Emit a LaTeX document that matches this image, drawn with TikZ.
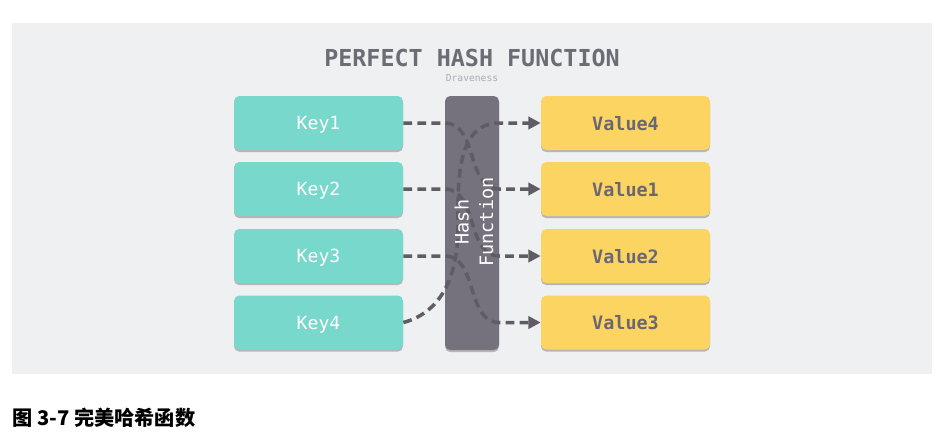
\documentclass[tikz,border=0pt]{standalone}
\usepackage{fontspec}
\setmonofont{DejaVu Sans Mono}
\newfontfamily\cjk{Noto Sans CJK SC}
\usetikzlibrary{arrows.meta,shadows}

\newlength{\du}
\setlength{\du}{0.02cm}

\definecolor{bgcolor}{HTML}{EFF0F2}
\definecolor{keycolor}{HTML}{78D8CC}
\definecolor{valuecolor}{HTML}{FCD462}
\definecolor{hashcolor}{HTML}{76727D}
\definecolor{arrowcolor}{HTML}{5F5C66}
\definecolor{titlecolor}{HTML}{6D6C74}
\definecolor{signcolor}{HTML}{A6ADB5}
\definecolor{valuetext}{HTML}{6B6772}

\tikzset{
  box/.style={rounded corners=3pt, inner sep=0pt, minimum width=169\du, minimum height=54\du,
    text depth=0pt,
    drop shadow={shadow xshift=0pt, shadow yshift=-1.2pt, opacity=0.35, fill=black!70}},
  keybox/.style={box, fill=keycolor, text=white, font=\ttfamily\fontsize{10.3}{12}\selectfont},
  valuebox/.style={box, fill=valuecolor, text=valuetext, font=\ttfamily\bfseries\fontsize{10.5}{12}\selectfont},
  flow/.style={draw=arrowcolor, line width=2pt, dash pattern=on 5pt off 3pt,
    -{Triangle[length=7pt,width=7pt]}},
}

\begin{document}
\begin{tikzpicture}
\pgftransformxscale{1.000000}
\pgftransformyscale{-1.000000}
\useasboundingbox (0\du,0\du) rectangle (945\du,437\du);
\fill[white] (0\du,0\du) rectangle (945\du,437\du);
\fill[bgcolor] (12\du,23\du) rectangle (932\du,374\du);
% title
\node[text=titlecolor, font=\ttfamily\bfseries\fontsize{13.3}{15}\selectfont] (title) at (472\du,58\du) {PERFECT HASH FUNCTION};
\node[text=signcolor, font=\ttfamily\fontsize{5.5}{6}\selectfont] (sign) at (472\du,78\du) {Draveness};
% keys
\node[keybox] (k1) at (318.5\du,123\du) {Key1};
\node[keybox] (k2) at (318.5\du,189\du) {Key2};
\node[keybox] (k3) at (318.5\du,256\du) {Key3};
\node[keybox] (k4) at (318.5\du,322.5\du) {Key4};
% hash function
\node[box, fill=hashcolor, minimum width=54\du, minimum height=254\du] (hf) at (472\du,223\du) {};
% values
\node[valuebox] (v4) at (625.5\du,123\du) {Value4};
\node[valuebox] (v1) at (625.5\du,189\du) {Value1};
\node[valuebox] (v2) at (625.5\du,256\du) {Value2};
\node[valuebox] (v3) at (625.5\du,322.5\du) {Value3};
% arrows
\draw[flow] (k1.east) -- (k1.east -| hf.west) to[out=0,in=180] (v1.west -| hf.east) -- (v1.west);
\draw[flow] (k2.east) -- (k2.east -| hf.west) to[out=0,in=180] (v2.west -| hf.east) -- (v2.west);
\draw[flow] (k3.east) -- (k3.east -| hf.west) to[out=0,in=180] (v3.west -| hf.east) -- (v3.west);
\coordinate (turn) at (458\du,228\du);
\draw[flow] (k4.east) to[out=-15,in=90] (turn) to[out=-90,in=180] (v4.west -| hf.east) -- (v4.west);
% label on top of the arrows
\node[rotate=90, text=white, align=center, font=\ttfamily\fontsize{10.5}{14}\selectfont] (hflabel) at (474\du,222\du) {Hash\\Function};
% caption
\node[anchor=west, inner sep=0pt, font=\cjk\bfseries\fontsize{11.5}{13}\selectfont] (caption) at (12\du,418\du) {图 3-7 完美哈希函数};
\end{tikzpicture}
\end{document}
